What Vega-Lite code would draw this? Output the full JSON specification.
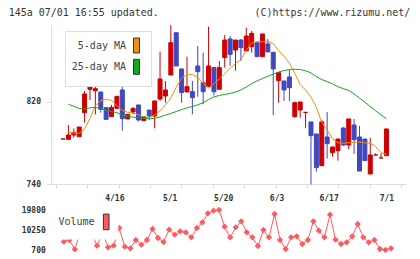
{
"$schema": "https://vega.github.io/schema/vega-lite/v6.json",
"padding": {"left": 8, "top": 7, "right": 0, "bottom": 0},
"background": "white",
"title": {"text": "145a 07/01 16:55 updated.\u00a0\u00a0\u00a0\u00a0\u00a0\u00a0\u00a0\u00a0\u00a0\u00a0\u00a0\u00a0\u00a0\u00a0\u00a0\u00a0(C)https://www.rizumu.net/", "anchor": "start", "frame": "bounds", "dx": -12.4, "offset": 7, "font": "DejaVu Sans Mono", "fontSize": 9.96, "fontWeight": "normal", "color": "#333"},
"config": {"view": {"stroke": null}, "axis": {"labelOverlap": false}},
"datasets": {
"candles": [
{"i":1,"o":783.7,"h":783.7,"l":783.7,"c":783.7,"v":null},
{"i":2,"o":783.4,"h":797.3,"l":783.4,"c":787.6,"v":4663},
{"i":3,"o":787.6,"h":794,"l":785,"c":789.9,"v":5461},
{"i":4,"o":786,"h":795.4,"l":786,"c":795.4,"v":1001},
{"i":5,"o":809.3,"h":830.4,"l":799.6,"c":827.5,"v":9438},
{"i":6,"o":832,"h":844.3,"l":821.6,"c":840.1,"v":8961},
{"i":7,"o":830.7,"h":843.3,"l":807.7,"c":832.6,"v":8961},
{"i":8,"o":829.4,"h":829.4,"l":809.3,"c":812.6,"v":2753},
{"i":9,"o":814.2,"h":814.2,"l":802.8,"c":802.8,"v":8961},
{"i":10,"o":805.4,"h":816.8,"l":805.4,"c":814.5,"v":1957},
{"i":11,"o":813.5,"h":825.2,"l":813.5,"c":825.2,"v":2753},
{"i":12,"o":831.4,"h":834.6,"l":791.8,"c":803.5,"v":11190},
{"i":13,"o":803.2,"h":807.7,"l":803.2,"c":807.7,"v":2277},
{"i":14,"o":810,"h":814.5,"l":807.7,"c":813.5,"v":1480},
{"i":15,"o":816.8,"h":816.8,"l":800.8,"c":802.2,"v":5461},
{"i":16,"o":801.5,"h":805.4,"l":801.5,"c":805.4,"v":3231},
{"i":17,"o":811.9,"h":811.9,"l":802.2,"c":806.1,"v":5461},
{"i":18,"o":806.1,"h":820.7,"l":794.1,"c":820.7,"v":10713},
{"i":19,"o":822.6,"h":868.6,"l":820.7,"c":842,"v":6416},
{"i":20,"o":825.5,"h":840.1,"l":819,"c":831.4,"v":4504},
{"i":21,"o":845.9,"h":894.5,"l":845.9,"c":877.3,"v":10395},
{"i":22,"o":887,"h":887,"l":854.7,"c":854.7,"v":8006},
{"i":23,"o":851.8,"h":851.8,"l":819,"c":828.8,"v":9597},
{"i":24,"o":829.4,"h":863.7,"l":829.4,"c":834.6,"v":9120},
{"i":25,"o":829.7,"h":840.1,"l":807.7,"c":823.9,"v":6733},
{"i":26,"o":854.7,"h":874.1,"l":824.9,"c":849.2,"v":11190},
{"i":27,"o":838.5,"h":867.6,"l":817.4,"c":829.7,"v":13895},
{"i":28,"o":834.6,"h":892.9,"l":834.6,"c":854.7,"v":18191},
{"i":29,"o":853.1,"h":853.1,"l":826,"c":829.7,"v":19466},
{"i":30,"o":832,"h":859.5,"l":832,"c":853.1,"v":19785},
{"i":31,"o":862.8,"h":884.8,"l":853.1,"c":879.9,"v":11826},
{"i":32,"o":880.9,"h":883.8,"l":854.7,"c":866,"v":6733},
{"i":33,"o":870.2,"h":879.9,"l":850.1,"c":879.9,"v":11507},
{"i":34,"o":879.9,"h":880.9,"l":859.5,"c":872.5,"v":14372},
{"i":35,"o":869.3,"h":891.9,"l":869.3,"c":883.8,"v":9120},
{"i":36,"o":873.5,"h":888.7,"l":867.6,"c":886.4,"v":6733},
{"i":37,"o":877.3,"h":877.3,"l":863.7,"c":863.7,"v":2595},
{"i":38,"o":863.7,"h":885.8,"l":863.7,"c":885.8,"v":10236},
{"i":39,"o":876.1,"h":880.9,"l":868.3,"c":868.3,"v":6733},
{"i":40,"o":868,"h":868,"l":807,"c":851.8,"v":17876},
{"i":41,"o":840.4,"h":848.2,"l":819,"c":848.2,"v":5461},
{"i":42,"o":840.1,"h":840.1,"l":820.7,"c":831.4,"v":1163},
{"i":43,"o":844,"h":850.8,"l":820.7,"c":833.6,"v":6733},
{"i":44,"o":805.4,"h":820,"l":804.5,"c":819,"v":7209},
{"i":45,"o":811.9,"h":819.7,"l":804.5,"c":819.7,"v":3550},
{"i":46,"o":809.6,"h":809.6,"l":794.1,"c":809.6,"v":5461},
{"i":47,"o":800.3,"h":800.3,"l":739.7,"c":787,"v":14372},
{"i":48,"o":788.6,"h":788.6,"l":752,"c":755.9,"v":9916},
{"i":49,"o":757.8,"h":802.2,"l":757.8,"c":800.3,"v":6733},
{"i":50,"o":785.7,"h":810,"l":764.6,"c":779.2,"v":17556},
{"i":51,"o":770.5,"h":776,"l":766.6,"c":776,"v":5618},
{"i":52,"o":772.4,"h":783.7,"l":762.7,"c":783.7,"v":3550},
{"i":53,"o":794.4,"h":795.4,"l":776.9,"c":777.9,"v":4344},
{"i":54,"o":777.9,"h":803.2,"l":774,"c":803.2,"v":7209},
{"i":55,"o":797.3,"h":803.2,"l":769.2,"c":783.1,"v":13101},
{"i":56,"o":785.7,"h":796.4,"l":752.6,"c":752.6,"v":6733},
{"i":57,"o":783.7,"h":783.7,"l":762.7,"c":762.7,"v":4344},
{"i":58,"o":749.7,"h":784.7,"l":749.7,"c":768.2,"v":5461},
{"i":59,"o":768.2,"h":769.8,"l":768.2,"c":768.2,"v":1163},
{"i":60,"o":765.3,"h":769.8,"l":765.3,"c":765.3,"v":686},
{"i":61,"o":767.5,"h":793.5,"l":767.5,"c":793.5,"v":1480}
],
"ma": [
{"i":2,"ma5":790.5,"ma25":817.5},
{"i":3,"ma5":789.3,"ma25":815.5},
{"i":4,"ma5":789.3,"ma25":813.5},
{"i":5,"ma5":793.5,"ma25":812.7},
{"i":6,"ma5":803.5,"ma25":814},
{"i":7,"ma5":816,"ma25":814.5},
{"i":8,"ma5":821,"ma25":813},
{"i":9,"ma5":822.2,"ma25":811.6},
{"i":10,"ma5":821.2,"ma25":810.3},
{"i":11,"ma5":816,"ma25":809.4},
{"i":12,"ma5":811.5,"ma25":806.8},
{"i":13,"ma5":809.7,"ma25":805.8},
{"i":14,"ma5":808.8,"ma25":805},
{"i":15,"ma5":807.2,"ma25":804.2},
{"i":16,"ma5":805.3,"ma25":803.8},
{"i":17,"ma5":804.5,"ma25":803.3},
{"i":18,"ma5":806.8,"ma25":803.8},
{"i":19,"ma5":811,"ma25":805.2},
{"i":20,"ma5":817,"ma25":807},
{"i":21,"ma5":823.5,"ma25":808.5},
{"i":22,"ma5":834,"ma25":810.4},
{"i":23,"ma5":842.7,"ma25":812.3},
{"i":24,"ma5":846.8,"ma25":814},
{"i":25,"ma5":846.4,"ma25":815.3},
{"i":26,"ma5":843.5,"ma25":817},
{"i":27,"ma5":838,"ma25":819},
{"i":28,"ma5":833.3,"ma25":822},
{"i":29,"ma5":837.5,"ma25":824.7},
{"i":30,"ma5":842,"ma25":826},
{"i":31,"ma5":847.2,"ma25":827},
{"i":32,"ma5":852.5,"ma25":828},
{"i":33,"ma5":857,"ma25":829.3},
{"i":34,"ma5":860.8,"ma25":831.5},
{"i":35,"ma5":869.8,"ma25":834.2},
{"i":36,"ma5":877,"ma25":837.5},
{"i":37,"ma5":878.3,"ma25":840.2},
{"i":38,"ma5":878.3,"ma25":842.5},
{"i":39,"ma5":878.3,"ma25":844.7},
{"i":40,"ma5":876.5,"ma25":846.7},
{"i":41,"ma5":869.7,"ma25":848.8},
{"i":42,"ma5":864.1,"ma25":850.3},
{"i":43,"ma5":857.5,"ma25":851.2},
{"i":44,"ma5":847.5,"ma25":851.5},
{"i":45,"ma5":836.6,"ma25":851.2},
{"i":46,"ma5":831.3,"ma25":850},
{"i":47,"ma5":824.5,"ma25":848},
{"i":48,"ma5":814.5,"ma25":844.3},
{"i":49,"ma5":799.8,"ma25":841.5},
{"i":50,"ma5":792.5,"ma25":839.5},
{"i":51,"ma5":784,"ma25":837.3},
{"i":52,"ma5":780.1,"ma25":834.6},
{"i":53,"ma5":779.6,"ma25":832.6},
{"i":54,"ma5":780,"ma25":831},
{"i":55,"ma5":780.6,"ma25":827.5},
{"i":56,"ma5":780.8,"ma25":823.5},
{"i":57,"ma5":780,"ma25":819.5},
{"i":58,"ma5":779.5,"ma25":815.3},
{"i":59,"ma5":776.4,"ma25":811.2},
{"i":60,"ma5":770.5,"ma25":807},
{"i":61,"ma5":768.8,"ma25":803.5}
]
},
"vconcat": [
{
"width": 355, "height": 159,
"layer": [
{"data": {"name": "candles"}, "mark": {"type": "rule", "strokeWidth": 1},
 "encoding": {
  "x": {"field": "i", "type": "quantitative", "scale": {"domain": [-0.3, 63.7], "nice": false, "zero": false},
        "axis": {"orient": "bottom", "values": [-0.3, 5.518, 11.336, 17.155, 22.973, 28.791, 34.609, 40.427, 46.245, 52.064, 57.882, 63.7], "labels": false, "ticks": true, "tickSize": 4, "tickColor": "#dddddd", "domainColor": "#dddddd", "grid": false, "title": null}},
  "y": {"field": "l", "type": "quantitative", "scale": {"domain": [740, 894.5], "nice": false, "zero": false},
        "axis": {"values": [740, 820], "title": null, "grid": false, "domainColor": "#dddddd", "tickColor": "#dddddd", "tickSize": 5, "labelFont": "DejaVu Sans Mono", "labelFontSize": 8, "labelFontWeight": "bold", "labelColor": "#333", "labelPadding": 5.5}},
  "y2": {"field": "h"},
  "color": {"condition": {"test": "datum.c >= datum.o", "value": "#d00000"}, "value": "#4048c0"}
 }},
{"data": {"name": "candles"}, "mark": {"type": "bar", "width": 4, "strokeWidth": 1},
 "encoding": {
  "x": {"field": "i", "type": "quantitative",
        "axis": {"orient": "bottom", "values": [10.52, 20.79, 30.71, 40.62, 50.27, 61.0], "labelExpr": "datum.value < 15 ? '4/16' : datum.value < 25 ? '5/1' : datum.value < 35 ? '5/20' : datum.value < 45 ? '6/3' : datum.value < 55 ? '6/17' : '7/1'", "ticks": false, "domain": false, "grid": false, "title": null, "labelPadding": 10, "labelFont": "DejaVu Sans Mono", "labelFontSize": 8, "labelFontWeight": "bold", "labelColor": "#333", "labelFlush": false, "labelOverlap": false}},
  "y": {"field": "o", "type": "quantitative"},
  "y2": {"field": "c"},
  "fill": {"condition": {"test": "datum.c >= datum.o", "value": "#d00000"}, "value": "#4048c0"},
  "stroke": {"condition": {"test": "datum.c >= datum.o", "value": "#d00000"}, "value": "#4048c0"}
 }},
{"data": {"name": "ma"}, "mark": {"type": "line", "strokeWidth": 1, "color": "#f0900a"},
 "encoding": {"x": {"field": "i", "type": "quantitative", "axis": null}, "y": {"field": "ma5", "type": "quantitative"}}},
{"data": {"name": "ma"}, "mark": {"type": "line", "strokeWidth": 1, "color": "#14a820"},
 "encoding": {"x": {"field": "i", "type": "quantitative", "axis": null}, "y": {"field": "ma25", "type": "quantitative"}}},
{"data": {"name": "ma"}, "mark": {"type": "point", "filled": true, "opacity": 0, "shape": "M-0.6,-1.5H0.6V1.5H-0.6Z", "size": 100, "stroke": "#333", "strokeWidth": 1},
 "encoding": {"x": {"field": "i", "type": "quantitative", "axis": null}, "y": {"field": "ma5", "type": "quantitative"},
  "fill": {"datum": "5-day MA", "scale": {"domain": ["5-day MA", "25-day MA"], "range": ["#f0900a", "#14a820"]},
   "legend": {"orient": "none", "legendX": 14, "legendY": 6, "title": null, "symbolType": "M-0.6,-1.5H0.6V1.5H-0.6Z", "symbolSize": 100, "symbolStrokeColor": "#333", "symbolStrokeWidth": 1, "symbolOpacity": 1, "labelFont": "DejaVu Sans Mono", "labelFontSize": 10, "labelColor": "#444", "labelAlign": "right", "labelOffset": -16, "symbolOffset": 57, "fillColor": "#ffffff", "strokeColor": "#dddddd", "padding": 9, "rowPadding": 2.3}}}},
{"data": {"name": "ma"}, "mark": {"type": "point", "filled": true, "opacity": 0, "shape": "M-0.6,-1.5H0.6V1.5H-0.6Z", "size": 100, "stroke": "#333", "strokeWidth": 1},
 "encoding": {"x": {"field": "i", "type": "quantitative", "axis": null}, "y": {"field": "ma25", "type": "quantitative"},
  "fill": {"datum": "25-day MA"}}}
],
"resolve": {"axis": {"x": "independent"}}
},
{
"width": 355, "height": 40,
"layer": [
{"data": {"name": "candles"}, "mark": {"type": "line", "strokeWidth": 1, "color": "#ff5a5f"},
 "encoding": {
  "x": {"field": "i", "type": "quantitative", "scale": {"domain": [-0.3, 63.7], "nice": false, "zero": false}, "axis": null},
  "y": {"field": "v", "type": "quantitative", "scale": {"domain": [700, 19800], "nice": false, "zero": false},
        "axis": {"orient": "left", "values": [700, 19800], "format": "d", "zindex": 2, "title": null, "grid": false, "domain": false, "ticks": false, "labelFont": "DejaVu Sans Mono", "labelFontSize": 8, "labelFontWeight": "bold", "labelColor": "#333", "labelPadding": 5.7}}
 }},
{"data": {"name": "candles"}, "mark": {"type": "point", "shape": "diamond", "filled": true, "size": 40, "opacity": 1, "color": "#ff5a5f"},
 "encoding": {"x": {"field": "i", "type": "quantitative"}, "y": {"field": "v", "type": "quantitative",
        "axis": {"orient": "left", "values": [10250], "format": "d", "zindex": 2, "title": null, "grid": false, "domain": false, "ticks": false, "labelFont": "DejaVu Sans Mono", "labelFontSize": 8, "labelFontWeight": "bold", "labelColor": "#333", "labelPadding": 5.7}}}},
{"data": {"name": "candles"}, "mark": {"type": "point", "filled": true, "opacity": 0, "shape": "M-0.36,-1H0.36V1H-0.36Z", "size": 243, "stroke": "#333", "strokeWidth": 1},
 "encoding": {"x": {"field": "i", "type": "quantitative"}, "y": {"field": "v", "type": "quantitative", "axis": null},
  "fill": {"datum": "Volume", "scale": {"domain": ["Volume"], "range": ["#ff5a5f"]},
   "legend": {"orient": "none", "legendX": 1.3, "legendY": -3.6, "zindex": 1, "title": null, "symbolType": "M-0.36,-1H0.36V1H-0.36Z", "symbolSize": 243, "symbolStrokeColor": "#333", "symbolStrokeWidth": 1, "symbolOpacity": 1, "labelFont": "DejaVu Sans Mono", "labelFontSize": 10, "labelColor": "#444", "labelAlign": "right", "labelOffset": -20.1, "symbolOffset": 38.4, "fillColor": "#ffffff", "padding": 7}}}}
],
"resolve": {"axis": {"y": "independent"}}
}
],
"spacing": 0,
"resolve": {"scale": {"fill": "independent", "x": "independent"}, "legend": {"fill": "independent"}}
}
